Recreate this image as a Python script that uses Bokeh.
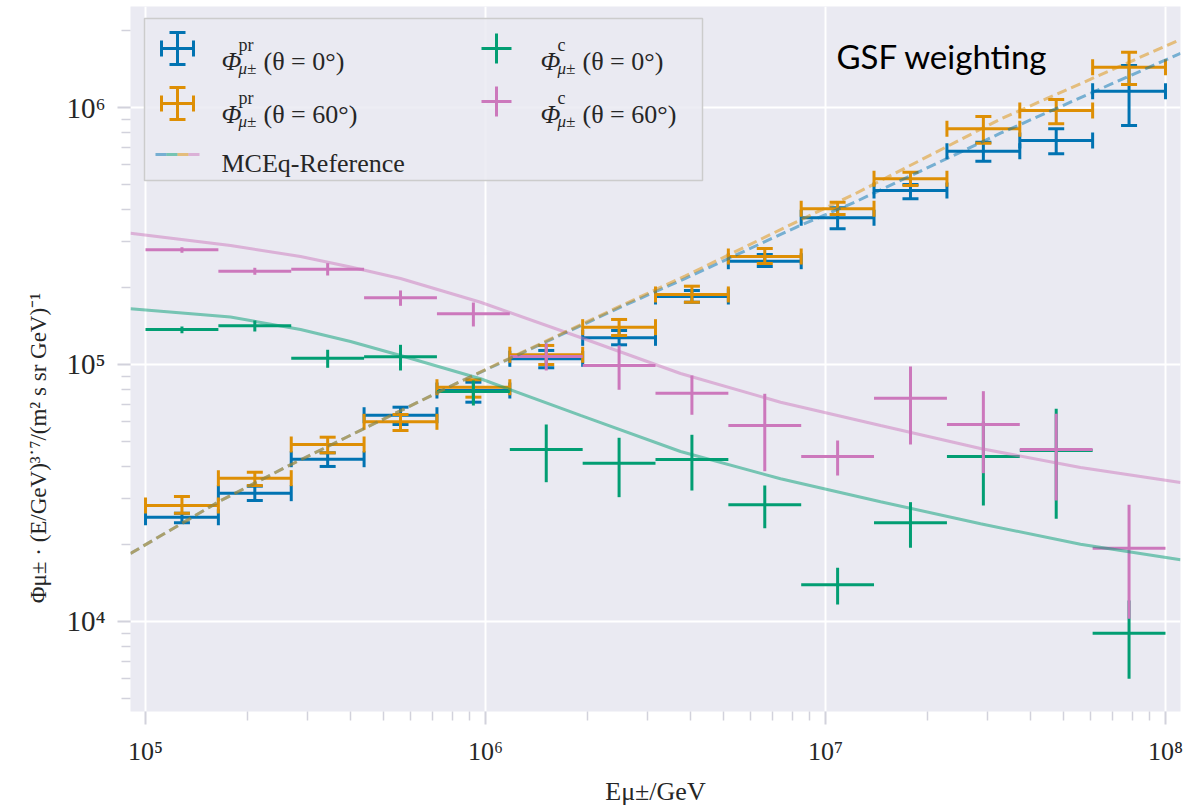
import numpy as np
from bokeh.plotting import figure
from bokeh.models import Range1d, LinearScale, FixedTicker, CustomJSTickFormatter
from bokeh.core.properties import value
from bokeh.embed import file_html
from bokeh.resources import INLINE

# ---------------- data ----------------
bin_edges = [1.000e5, 1.638e5, 2.683e5, 4.394e5, 7.197e5, 1.179e6, 1.931e6, 3.162e6,
             5.179e6, 8.483e6, 1.389e7, 2.276e7, 3.728e7, 6.105e7, 1.000e8]

pr0_val = [25460, 31570, 42800, 63470, 79190, 105200, 127000, 183900, 252300, 372300, 475400, 676100, 743900, 1157000]
pr0_lo  = [24210, 29570, 40110, 58420, 71340, 97100, 119300, 174700, 240600, 337300, 441300, 618000, 660300, 851200]
pr0_hi  = [26390, 33620, 45330, 68210, 85330, 113400, 135600, 194100, 267900, 407100, 501600, 732800, 826300, 1457000]

pr60_val = [28270, 36110, 48830, 59840, 81570, 109100, 139700, 187300, 263100, 403500, 528000, 826300, 973400, 1435000]
pr60_lo  = [26390, 33820, 45330, 55360, 74620, 100000, 129700, 174700, 247200, 383500, 497200, 726300, 864000, 1229000]
pr60_hi  = [30650, 38090, 52130, 63880, 87190, 118600, 149700, 201700, 282800, 428000, 560200, 922600, 1074000, 1641000]

c0_val = [136900, 141500, 105800, 107100, 78520, 46700, 41300, 42700, 28450, 13900, 24210, 43850, 46280, 9005]
c0_lo  = [132400, 134400, 97100, 94780, 69260, 34830, 30460, 32330, 23070, 11650, 19360, 28270, 25090, 5984]
c0_hi  = [140600, 148400, 114100, 119300, 86650, 58420, 51860, 53270, 33820, 16180, 29130, 60010, 67230, 12070]

c60_val = [279500, 230700, 234900, 181800, 157500, 107400, 99110, 77300, 57880, 43850, 73930, 58420, 46700, 19290]
c60_lo  = [272100, 223400, 222000, 169200, 140600, 94780, 79730, 63740, 38440, 36980, 48830, 37760, 29570, 10240]
c60_hi  = [286100, 237800, 247900, 194100, 174200, 121000, 118600, 90630, 76920, 50610, 98220, 78730, 64310, 28450]

# MCEq reference curves
ref_pr_E     = [9.033e4, 1.662e5, 2.581e5, 3.874e5, 8.161e5, 1.225e6, 2.581e6, 3.874e6, 8.163e6, 1.225e7, 3.271e7, 1.107e8]
ref_pr0_phi  = [18390, 29510, 39810, 51880, 84140, 107900, 170600, 216300, 341200, 429500, 794300, 1625000]
ref_pr60_phi = [18390, 29510, 39810, 51880, 84140, 108400, 172600, 221300, 357300, 462400, 901600, 1840000]

ref_c_E     = [9.033e4, 1.778e5, 2.857e5, 4.008e5, 5.623e5, 9.670e5, 1.903e6, 3.746e6, 7.375e6,
               1.452e7, 2.857e7, 5.623e7, 1.107e8]
ref_c0_phi  = [164700, 153000, 136900, 122900, 108400, 87990, 63340, 45860, 35920, 29250, 24000, 19990, 17380]
ref_c60_phi = [324300, 290400, 263200, 239600, 216100, 174700, 127400, 92260, 71340, 57880, 47120, 39730, 34740]

# ---------------- style ----------------
BLUE, ORANGE, GREEN, PINK = "#0173b2", "#de8f05", "#029e73", "#cc78bc"
BG = "#eaeaf2"
TXT = "#262626"
SERIF = "Liberation Serif"

W, H = 1185, 812
FL, FR, FT, FB = 130, 5, 6, 101
FW, FH = W - FL - FR, H - FT - FB

p = figure(width=W, height=H, x_axis_type="log", y_axis_type="log",
           x_range=Range1d(9.033e4, 1.107e8), y_range=Range1d(4464, 2.472e6),
           output_backend="svg", toolbar_location=None,
           min_border_left=FL, min_border_right=FR, min_border_top=FT, min_border_bottom=FB,
           background_fill_color=BG, border_fill_color="white")
p.outline_line_color = None

# pixel-space helper ranges for the legend and annotation text
p.extra_x_ranges = {"px": Range1d(0, FW)}
p.extra_y_ranges = {"py": Range1d(FH, 0)}
p.extra_x_scales = {"px": LinearScale()}
p.extra_y_scales = {"py": LinearScale()}

# ticks
minor_x = [k * 10.0 ** e for e in range(4, 9) for k in range(2, 10)]
minor_y = [k * 10.0 ** e for e in range(3, 7) for k in range(2, 10)]
p.xaxis.ticker = FixedTicker(ticks=[1e5, 1e6, 1e7, 1e8], minor_ticks=minor_x)
p.yaxis.ticker = FixedTicker(ticks=[1e4, 1e5, 1e6], minor_ticks=minor_y)
fmt = CustomJSTickFormatter(code="""
const s = {"0":"\u2070","1":"\u00b9","2":"\u00b2","3":"\u00b3","4":"\u2074","5":"\u2075",
           "6":"\u2076","7":"\u2077","8":"\u2078","9":"\u2079","-":"\u207b"};
const e = Math.round(Math.log10(tick));
return "10" + String(e).split("").map(c => s[c]).join("");
""")
p.xaxis.formatter = fmt
p.yaxis.formatter = fmt

for ax in (p.xaxis[0], p.yaxis[0]):
    ax.axis_line_color = None
    ax.major_tick_line_color = "#d2d2dc"
    ax.major_tick_line_width = 2
    ax.major_tick_out = 13
    ax.major_tick_in = 0
    ax.minor_tick_line_color = "#d2d2dc"
    ax.minor_tick_line_width = 1.5
    ax.minor_tick_out = 9
    ax.minor_tick_in = 0
    ax.major_label_text_font = SERIF
    ax.major_label_text_color = TXT
    ax.major_label_standoff = 12
    ax.axis_label_text_font = SERIF
    ax.axis_label_text_font_style = "normal"
    ax.axis_label_text_color = TXT

p.xaxis.major_label_text_font_size = "26px"
p.yaxis.major_label_text_font_size = "29px"
p.xaxis.axis_label = "E\u03bc\u00b1/GeV"
p.xaxis.axis_label_text_font_size = "26px"
p.xaxis.axis_label_standoff = 8
# trailing no-break spaces push the visible title down to where the reference has it
p.yaxis.axis_label = ("\u03a6\u03bc\u00b1 \u00b7 (E/GeV)\u00b3\u02d9\u2077/(m\u00b2 s sr GeV)\u207b\u00b9"
                      + "\u00a0" * 31)
p.yaxis.axis_label_text_font_size = "23px"
p.yaxis.axis_label_standoff = 12

p.grid.grid_line_color = "white"
p.grid.grid_line_width = 2
p.grid.minor_grid_line_color = None

# ---------------- error bars ----------------
e = np.array(bin_edges)
e_lo, e_hi = e[:-1], e[1:]
xc = np.sqrt(e_lo * e_hi)

def errorbars(val, lo, hi, color, caps):
    val, lo, hi = np.array(val, float), np.array(lo, float), np.array(hi, float)
    p.segment(x0=e_lo, y0=val, x1=e_hi, y1=val, line_color=color, line_width=3)
    p.segment(x0=xc, y0=lo, x1=xc, y1=hi, line_color=color, line_width=3)
    if caps:
        p.scatter(x=np.concatenate([xc, xc]), y=np.concatenate([lo, hi]), marker="dash",
                  size=16, line_color=color, line_width=3)
        p.scatter(x=np.concatenate([e_lo, e_hi]), y=np.concatenate([val, val]), marker="dash",
                  angle=np.pi / 2, size=16, line_color=color, line_width=3)

errorbars(pr0_val, pr0_lo, pr0_hi, BLUE, True)
errorbars(pr60_val, pr60_lo, pr60_hi, ORANGE, True)
errorbars(c0_val, c0_lo, c0_hi, GREEN, False)
errorbars(c60_val, c60_lo, c60_hi, PINK, False)

# ---------------- reference curves ----------------
p.line(ref_c_E, ref_c0_phi, line_color=GREEN, line_alpha=0.5, line_width=3)
p.line(ref_c_E, ref_c60_phi, line_color=PINK, line_alpha=0.5, line_width=3)
p.line(ref_pr_E, ref_pr0_phi, line_color=BLUE, line_alpha=0.5, line_width=3, line_dash="10 5")
p.line(ref_pr_E, ref_pr60_phi, line_color=ORANGE, line_alpha=0.5, line_width=3, line_dash="10 5")

# ---------------- legend (drawn in pixel space) ----------------
R = dict(x_range_name="px", y_range_name="py")
p.quad(left=[14], right=[572], top=[12], bottom=[174], fill_color=BG, fill_alpha=0.85,
       line_color="#cccccc", line_width=1.5, **R)

def pr_icon(cx, cy, color):
    p.segment(x0=[cx - 16, cx], y0=[cy, cy - 16], x1=[cx + 16, cx], y1=[cy, cy + 16],
              line_color=color, line_width=3, **R)
    p.segment(x0=[cx - 16, cx + 16, cx - 8, cx - 8], y0=[cy - 8, cy - 8, cy - 16, cy + 16],
              x1=[cx - 16, cx + 16, cx + 8, cx + 8], y1=[cy + 8, cy + 8, cy - 16, cy + 16],
              line_color=color, line_width=3, **R)

def c_icon(cx, cy, color):
    p.segment(x0=[cx - 15, cx], y0=[cy, cy - 15], x1=[cx + 15, cx], y1=[cy, cy + 15],
              line_color=color, line_width=3, **R)

pr_icon(47, 42, BLUE)
pr_icon(47, 97, ORANGE)
c_icon(366, 42, GREEN)
c_icon(366, 95, PINK)
for i, col in enumerate([BLUE, GREEN, ORANGE, PINK]):
    p.segment(x0=[25 + 11 * i], y0=[148], x1=[36 + 11 * i], y1=[148], line_color=col,
              line_alpha=0.5, line_width=3, **R)

base = [55, 108, 55, 108]
xs_phi = [91, 91, 410, 410]
xs_sub = [108, 108, 427, 427]
xs_main = [133, 133, 452, 452]
p.text(x=xs_phi, y=base, text=["\u03a6"] * 4, text_font=value(SERIF), text_font_size="26px",
       text_font_style="italic", text_color=TXT, text_baseline="alphabetic", **R)
p.text(x=xs_sub, y=[b - 17 for b in base], text=["pr", "pr", "c", "c"], text_font=value(SERIF),
       text_font_size="18px", text_color=TXT, text_baseline="alphabetic", **R)
p.text(x=xs_sub, y=[b + 7 for b in base], text=["\u03bc\u00b1"] * 4, text_font=value(SERIF),
       text_font_size="17px", text_font_style="italic", text_color=TXT,
       text_baseline="alphabetic", **R)
p.text(x=xs_main + [91], y=base + [157],
       text=["(\u03b8 = 0\u00b0)", "(\u03b8 = 60\u00b0)", "(\u03b8 = 0\u00b0)", "(\u03b8 = 60\u00b0)",
             "MCEq-Reference"],
       text_font=value(SERIF), text_font_size="26px", text_color=TXT,
       text_baseline="alphabetic", **R)

p.text(x=[706], y=[49], text=["GSF weighting"], text_font=value("Lato"), text_font_size="33px",
       text_color="black", text_baseline="alphabetic", **R)

open("out.html", "w").write(file_html(p, INLINE))
